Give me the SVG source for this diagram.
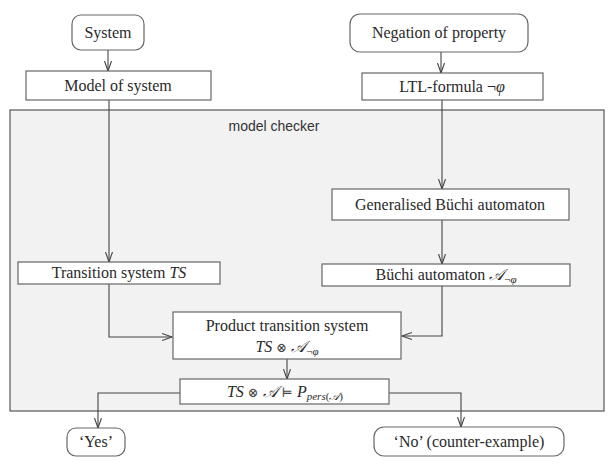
<svg xmlns="http://www.w3.org/2000/svg" width="613" height="465" viewBox="0 0 613 465">
<style>
.box{fill:#fff;stroke:#666;stroke-width:1.2}
.cont{fill:#f2f2f2;stroke:#555;stroke-width:1.2}
.t{font-family:"Liberation Serif","DejaVu Serif",serif;font-size:16px;fill:#2a2a2a;text-anchor:middle}
.m{font-style:italic}
.op{font-family:"DejaVu Serif",serif;font-size:13px;font-weight:normal;fill:#444}
.s{font-family:"Liberation Sans","DejaVu Sans",sans-serif;font-size:14px;fill:#333;text-anchor:middle}
.c{fill:none;stroke:#444;stroke-width:1.1}
</style>
<defs>
<marker id="ah" markerUnits="userSpaceOnUse" markerWidth="14" markerHeight="10" refX="10" refY="4" orient="auto" viewBox="0 0 14 10">
<path d="M0,0.5 L10,4 L0,7.5" fill="none" stroke="#444" stroke-width="1.1"/>
</marker>
</defs>
<g id="model-checker">
<rect class="cont" x="10" y="110" width="594" height="301"/>
<text class="s" x="274" y="131">model checker</text>
</g>
<g id="connectors">
<path class="c" d="M108,50 V71" marker-end="url(#ah)"/>
<path class="c" d="M441,52 V73" marker-end="url(#ah)"/>
<path class="c" d="M109,100 V262" marker-end="url(#ah)"/>
<path class="c" d="M442,100 V189" marker-end="url(#ah)"/>
<path class="c" d="M442,220 V264" marker-end="url(#ah)"/>
<path class="c" d="M109,284 V337 H172" marker-end="url(#ah)"/>
<path class="c" d="M442,286 V336 H402" marker-end="url(#ah)"/>
<path class="c" d="M287,359 V379" marker-end="url(#ah)"/>
<path class="c" d="M180,393 H98 V428" marker-end="url(#ah)"/>
<path class="c" d="M389,393 H461 V427" marker-end="url(#ah)"/>
</g>
<g id="system">
<rect class="box" x="72" y="15" width="72" height="35" rx="9"/>
<text class="t" x="108" y="38">System</text>
</g>
<g id="negation">
<rect class="box" x="350" y="14" width="178" height="38" rx="10"/>
<text class="t" x="439" y="38">Negation of property</text>
</g>
<g id="model">
<rect class="box" x="26" y="71" width="185" height="29"/>
<text class="t" x="118" y="91">Model of system</text>
</g>
<g id="ltl">
<rect class="box" x="362" y="73" width="181" height="27"/>
<text class="t" x="452" y="92">LTL-formula ¬<tspan class="m">φ</tspan></text>
</g>
<g id="gba">
<rect class="box" x="332" y="189" width="237" height="31"/>
<text class="t" x="450" y="210">Generalised Büchi automaton</text>
</g>
<g id="ts">
<rect class="box" x="18" y="262" width="202" height="22"/>
<text class="t" x="119" y="278">Transition system <tspan class="m">TS</tspan></text>
</g>
<g id="ba">
<rect class="box" x="322" y="264" width="248" height="22"/>
<text class="t" x="446" y="280">Büchi automaton <tspan class="m">𝒜</tspan><tspan font-size="11" dy="3">¬<tspan class="m">φ</tspan></tspan></text>
</g>
<g id="product">
<rect class="box" x="173" y="312" width="228" height="47"/>
<text class="t" x="287" y="331">Product transition system</text>
<text class="t" x="287" y="352"><tspan class="m">TS</tspan> <tspan class="op">⊗</tspan> <tspan class="m">𝒜</tspan><tspan font-size="11" dy="3">¬<tspan class="m">φ</tspan></tspan></text>
</g>
<g id="check">
<rect class="box" x="180" y="379" width="209" height="25"/>
<text class="t" x="285" y="397"><tspan class="m">TS</tspan> <tspan class="op">⊗</tspan> <tspan class="m">𝒜</tspan> <tspan class="op" font-size="15">⊨</tspan> <tspan class="m">P</tspan><tspan font-size="11" dy="3"><tspan class="m">pers</tspan>(<tspan class="m">𝒜</tspan>)</tspan></text>
</g>
<g id="yes">
<rect class="box" x="67" y="428" width="58" height="28" rx="9"/>
<text class="t" x="96" y="447">‘Yes’</text>
</g>
<g id="no">
<rect class="box" x="374" y="427" width="190" height="29" rx="10"/>
<text class="t" x="469" y="447">‘No’ (counter-example)</text>
</g>
</svg>
